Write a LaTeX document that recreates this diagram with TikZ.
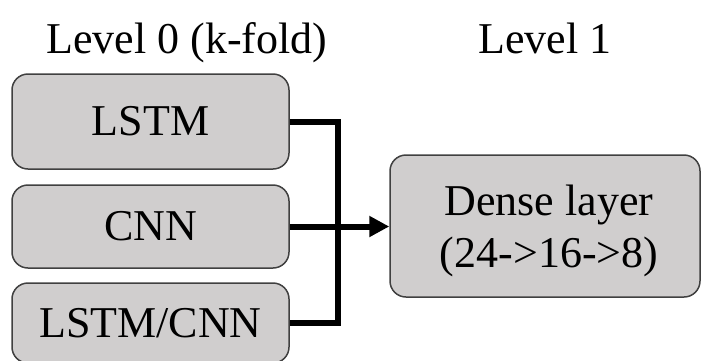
\documentclass[tikz,border=0pt]{standalone}
\usepackage{fontspec}
\setmainfont{Liberation Serif}
\usetikzlibrary{arrows.meta}
\definecolor{boxfill}{RGB}{208,206,206}
\definecolor{boxline}{RGB}{64,64,64}
\tikzset{
  model/.style={draw=boxline, fill=boxfill, line width=1.5pt, rounded corners=16pt,
    align=center, inner sep=0pt, font=\fontsize{44}{52}\selectfont},
  caption/.style={align=center, inner sep=0pt, font=\fontsize{44}{52}\selectfont},
  title/.style={font=\fontsize{44}{54}\selectfont, inner sep=0pt, anchor=base},
  link/.style={line width=6pt, black, line join=miter}
}
\begin{document}
\begin{tikzpicture}[x=1pt, y=-1pt]
  \useasboundingbox (0,0) rectangle (703,360);
  \clip (0,0) rectangle (703,360);

  \node[title] (t0) at (187,53) {Level 0 (k-fold)};
  \node[title] (t1) at (545,53) {Level 1};

  \node[model, minimum width=277pt, minimum height=95pt] (lstm) at (150.5,121.5) {LSTM};
  \node[model, minimum width=277pt, minimum height=83pt] (cnn) at (150.5,226.5) {CNN};
  \node[model, minimum width=277pt, minimum height=80pt] (mix) at (150.5,323) {LSTM/CNN};

  \node[model, minimum width=310pt, minimum height=142pt] (dense) at (545,226) {};
  \node[caption] (densetext) at (549,231) {Dense layer\\(24->16->8)};

  \coordinate (bus) at (338,226.5);
  \draw[link] (lstm.east) -| (bus) |- (mix.east);
  \draw[link, -{Triangle[length=20pt,width=20pt]}] (cnn.east) -- (cnn.east -| dense.west);
\end{tikzpicture}
\end{document}
